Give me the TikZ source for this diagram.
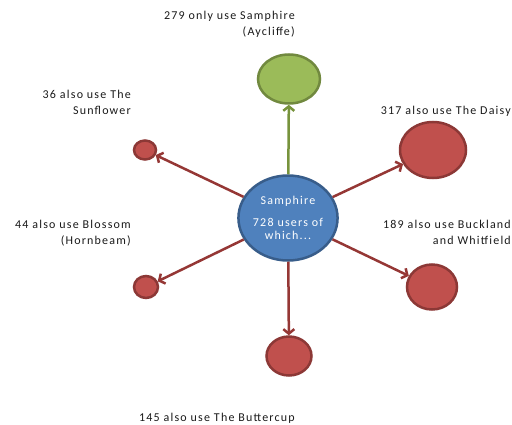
\documentclass[tikz,border=0pt]{standalone}
\usepackage{fontspec}
\setmainfont{Carlito}[LetterSpace=10]
\usetikzlibrary{arrows.meta,shapes.geometric}
\definecolor{txt}{HTML}{1A1A1A}
\definecolor{bluef}{HTML}{4F81BD}
\definecolor{blueb}{HTML}{385D8A}
\definecolor{greenf}{HTML}{9BBB59}
\definecolor{greenb}{HTML}{71893F}
\definecolor{redf}{HTML}{C0504D}
\definecolor{redb}{HTML}{8C3836}
\definecolor{reda}{HTML}{953735}
\definecolor{greena}{HTML}{77933C}
\begin{document}
\begin{tikzpicture}[x=1pt,y=-1pt,
  lbl/.style={font=\fontsize{12}{16}\selectfont, text=txt, align=right, inner sep=0pt, anchor=base east},
  blob/.style={ellipse, line width=2.5pt, inner sep=0pt},
  redblob/.style={blob, draw=redb, fill=redf},
  link/.style={line width=2.5pt, draw=reda, -{Straight Barb[length=4.5pt,width=11pt]}},
  glink/.style={link, draw=greena}]
\useasboundingbox (0,0) rectangle (512,425);
% nodes
\node[blob, draw=blueb, fill=bluef, minimum width=97pt, minimum height=85pt,
      text=white, align=center, font=\fontsize{12}{12.5}\selectfont] (c) at (288,218)
      {Samphire\\[9.5pt]728 users of\\which...};
\node[blob, draw=greenb, fill=greenf, minimum width=62pt, minimum height=49pt] (g) at (289,79) {};
\node[redblob, minimum width=66pt, minimum height=56pt] (daisy) at (433,150) {};
\node[redblob, minimum width=22pt, minimum height=19pt] (sun) at (145,150) {};
\node[redblob, minimum width=24pt, minimum height=22pt] (blos) at (146,287) {};
\node[redblob, minimum width=50pt, minimum height=45pt] (buck) at (432,287) {};
\node[redblob, minimum width=45pt, minimum height=39pt] (butt) at (289,356) {};
% labels (base = last line)
\node[lbl] (lg) at (295,36) {279 only use Samphire\\(Aycliffe)};
\node[lbl] (lsun) at (131,115) {36 also use The\\Sunflower};
\node[lbl] (ldaisy) at (511,115) {317 also use The Daisy};
\node[lbl] (lblos) at (131,244) {44 also use Blossom\\(Hornbeam)};
\node[lbl] (lbuck) at (511,244) {189 also use Buckland\\and Whitfield};
\node[lbl] (lbutt) at (295,421) {145 also use The Buttercup};
% connectors
\draw[glink] (c) -- (g);
\draw[link] (c) -- (daisy);
\draw[link] (c) -- (sun);
\draw[link] (c) -- (blos);
\draw[link] (c) -- (buck);
\draw[link] (c) -- (butt);
\end{tikzpicture}
\end{document}
